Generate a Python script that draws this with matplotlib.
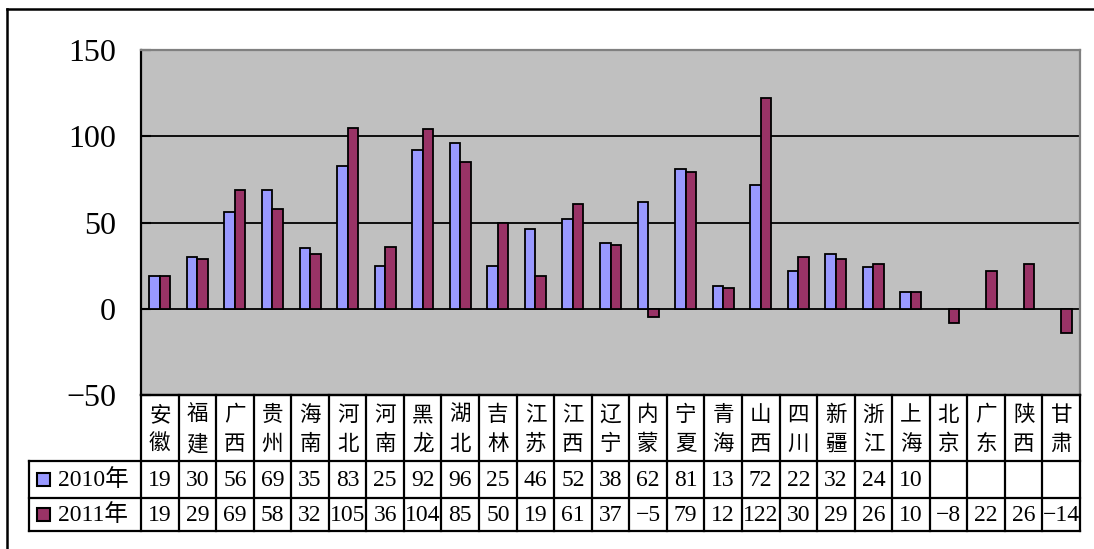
import numpy as np
import matplotlib
matplotlib.use("Agg")
import matplotlib.pyplot as plt
from matplotlib.lines import Line2D
from matplotlib.patches import Rectangle

# 数据
provinces = ["安徽", "福建", "广西", "贵州", "海南", "河北", "河南", "黑龙", "湖北", "吉林",
             "江苏", "江西", "辽宁", "内蒙", "宁夏", "青海", "山西", "四川", "新疆", "浙江",
             "上海", "北京", "广东", "陕西", "甘肃"]
v2010 = [19, 30, 56, 69, 35, 83, 25, 92, 96, 25, 46, 52, 38, 62, 81, 13, 72, 22, 32, 24, 10,
         None, None, None, None]
v2011 = [19, 29, 69, 58, 32, 105, 36, 104, 85, 50, 19, 61, 37, -5, 79, 12, 122, 30, 29, 26, 10,
         -8, 22, 26, -14]
series_names = ["2010年", "2011年"]
colors = ["#9999FF", "#993366"]
yticks = [-50, 0, 50, 100, 150]

W, H = 1094, 549
fig = plt.figure(figsize=(W / 100, H / 100), dpi=100)

def fx(px):
    return px / W

def fy(py):
    return 1 - py / H

def fmt(v):
    return str(v).replace("-", "\u2212")

num_font = ["Liberation Serif", "Noto Sans CJK SC"]
cjk_font = ["Noto Sans CJK SC", "DejaVu Sans"]

n = len(provinces)
left, right, top, bottom = 141, 1080, 50, 395
ax = fig.add_axes([fx(left), fy(bottom), fx(right - left), (bottom - top) / H])
ax.set_facecolor("#C0C0C0")

x = np.arange(n)
bw = 0.28
b1 = [np.nan if v is None else v for v in v2010]
b2 = [np.nan if v is None else v for v in v2011]
ax.bar(x + 0.5 - bw / 2, b1, width=bw, color=colors[0], edgecolor="black", linewidth=1.3, zorder=3)
ax.bar(x + 0.5 + bw / 2, b2, width=bw, color=colors[1], edgecolor="black", linewidth=1.3, zorder=3)

ax.set_xlim(0, n)
ax.set_ylim(-50, 150)
ax.set_yticks(yticks)
ax.set_yticklabels([fmt(t) for t in yticks], family=num_font, fontsize=23)
ax.set_xticks([])
ax.tick_params(axis="y", direction="in", length=7, width=1.5, pad=18)
for t in [0, 50, 100]:
    ax.axhline(t, color="black", linewidth=1.3, zorder=2)
ax.spines["left"].set_linewidth(1.6)
ax.spines["bottom"].set_linewidth(1.6)
ax.spines["top"].set_color("#808080")
ax.spines["right"].set_color("#808080")
ax.spines["top"].set_linewidth(1.6)
ax.spines["right"].set_linewidth(1.6)

# 数据表
col_w = (right - left) / n
leg_left = 29
row_top, row_mid1, row_mid2, row_bot = 395, 461, 498, 531
lw = 1.6

fig.add_artist(Line2D([fx(left), fx(right)], [fy(row_top), fy(row_top)], color="black", lw=lw))
for yy in [row_mid1, row_mid2, row_bot]:
    fig.add_artist(Line2D([fx(leg_left), fx(right)], [fy(yy), fy(yy)], color="black", lw=lw))
for i in range(n + 1):
    xx = left + i * col_w
    fig.add_artist(Line2D([fx(xx), fx(xx)], [fy(row_top), fy(row_bot)], color="black", lw=lw))
fig.add_artist(Line2D([fx(leg_left), fx(leg_left)], [fy(row_mid1), fy(row_bot)], color="black", lw=lw))

for i, name in enumerate(provinces):
    cx = left + (i + 0.5) * col_w
    fig.text(fx(cx), fy(415), name[0], family=cjk_font, fontsize=15.5, ha="center", va="center")
    fig.text(fx(cx), fy(444), name[1], family=cjk_font, fontsize=15.5, ha="center", va="center")
    for vals, yy in [(v2010, (row_mid1 + row_mid2) / 2), (v2011, (row_mid2 + row_bot) / 2)]:
        v = vals[i]
        if v is not None:
            fig.text(fx(cx), fy(yy + 1), fmt(v), family=num_font,
                     fontsize=17, ha="center", va="center")

for name, c, yy in [(series_names[0], colors[0], (row_mid1 + row_mid2) / 2),
                    (series_names[1], colors[1], (row_mid2 + row_bot) / 2)]:
    fig.add_artist(Rectangle((fx(37), fy(yy + 6)), 13 / W, 13 / H, facecolor=c,
                             edgecolor="black", linewidth=1.5, transform=fig.transFigure))
    fig.text(fx(58), fy(yy + 1), name, family=num_font, fontsize=17, ha="left", va="center")

# 外框
fig.add_artist(Line2D([fx(7), fx(7)], [fy(9), 0], color="black", lw=1.8))
fig.add_artist(Line2D([fx(7), 1], [fy(9), fy(9)], color="black", lw=1.8))

fig.savefig("out.png", dpi=100)
